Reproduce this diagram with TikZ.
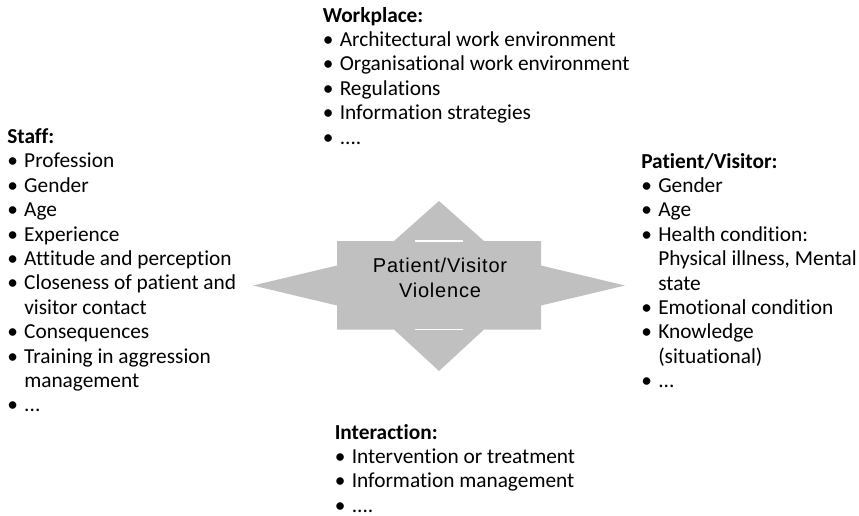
\documentclass[tikz,border=0pt]{standalone}
\usepackage{fontspec}
\usepackage{tikz}
\setmainfont{Carlito}[Ligatures=NoCommon]
\newfontfamily\hubfont[LetterSpace=4]{Liberation Sans}
\definecolor{blockgray}{RGB}{192,192,192}
\newcommand{\bul}{\makebox[12.75pt][l]{\textbullet}}

\begin{document}
\begin{tikzpicture}[x=0.75pt,y=0.75pt,yscale=-1,xscale=1,
  listtext/.style={anchor=base west,inner sep=0pt,font=\fontsize{16}{18.3}\selectfont},
  hubtext/.style={inner sep=0pt,align=center,font=\hubfont\fontsize{15}{19.2}\selectfont}]
\useasboundingbox (0,0) rectangle (859,515);

%Shape: Four-way arrow
\fill[blockgray] (439,201) -- (484,241) -- (541,241) -- (541,265.5) -- (625,285.5) -- (541,305.5) -- (541,329.5) -- (484,329.5) -- (439,371) -- (394,329.5) -- (337,329.5) -- (337,305.5) -- (253,285.5) -- (337,265.5) -- (337,241) -- (394,241) -- cycle ;
%Straight Lines: gaps at the stems
\draw[white,line width=0.8] (415,241) -- (463,241) ;
\draw[white,line width=0.8] (415,329.2) -- (463,329.2) ;

% Text Node
\node[hubtext] (hub) at (440,278) {Patient/Visitor\\Violence};

% Text Node
\node[listtext] (workplace) at (322.5,22) {\begin{tabular}[t]{@{}l@{}l@{}}
\multicolumn{2}{@{}l@{}}{\textbf{Workplace:}}\\
\bul & Architectural work environment\\
\bul & Organisational work environment\\
\bul & Regulations\\
\bul & Information strategies\\
\bul & ....
\end{tabular}};

% Text Node
\node[listtext] (staff) at (7,143.5) {\begin{tabular}[t]{@{}l@{}l@{}}
\multicolumn{2}{@{}l@{}}{\textbf{Staff:}}\\
\bul & Profession\\
\bul & Gender\\
\bul & Age\\
\bul & Experience\\
\bul & Attitude and perception\\
\bul & Closeness of patient and\\
     & visitor contact\\
\bul & Consequences\\
\bul & Training in aggression\\
     & management\\
\bul & ...
\end{tabular}};

% Text Node
\node[listtext] (patient) at (641,168) {\begin{tabular}[t]{@{}l@{}l@{}}
\multicolumn{2}{@{}l@{}}{\textbf{Patient/Visitor:}}\\
\bul & Gender\\
\bul & Age\\
\bul & Health condition:\\
     & Physical illness, Mental\\
     & state\\
\bul & Emotional condition\\
\bul & Knowledge\\
     & (situational)\\
\bul & ...
\end{tabular}};

% Text Node
\node[listtext] (interaction) at (334.5,439) {\begin{tabular}[t]{@{}l@{}l@{}}
\multicolumn{2}{@{}l@{}}{\textbf{Interaction:}}\\
\bul & Intervention or treatment\\
\bul & Information management\\
\bul & ....\\[-5pt]
\end{tabular}};

\end{tikzpicture}
\end{document}
